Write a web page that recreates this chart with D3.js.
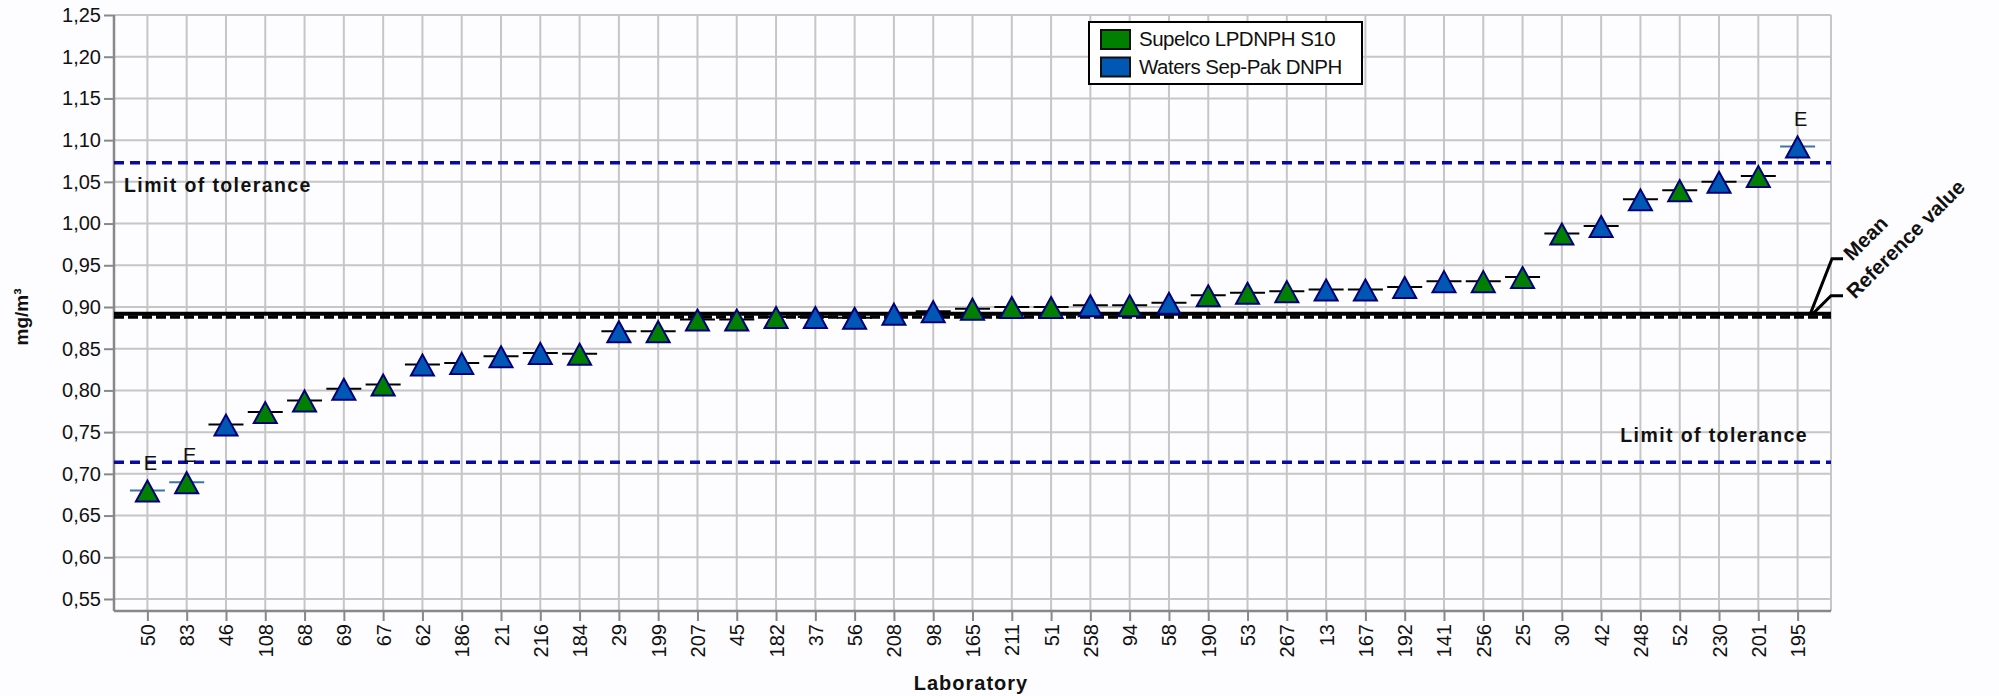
<!DOCTYPE html>
<html>
<head>
<meta charset="utf-8">
<script src="https://cdn.jsdelivr.net/npm/d3@7"></script>
<style>
html,body{margin:0;padding:0;background:#fdfcff;}
svg{display:block;font-family:"Liberation Sans",Arial,sans-serif;}
</style>
</head>
<body>
<svg id="chart" width="1999" height="696"></svg>
<script>
const labs = ["50","83","46","108","68","69","67","62","186","21","216","184","29","199","207","45","182","37","56","208","98","165","211","51","258","94","58","190","53","267","13","167","192","141","256","25","30","42","248","52","230","201","195"];
const values = [0.680,0.690,0.759,0.774,0.788,0.802,0.807,0.831,0.833,0.841,0.845,0.844,0.871,0.871,0.885,0.885,0.888,0.888,0.887,0.892,0.895,0.898,0.900,0.900,0.902,0.902,0.905,0.914,0.917,0.919,0.921,0.921,0.924,0.931,0.931,0.936,0.988,0.997,1.029,1.040,1.050,1.057,1.0925];
const cartridge = ["S","S","W","S","S","W","S","W","W","W","W","S","W","S","S","S","S","W","W","W","W","S","S","S","W","S","W","S","S","S","W","W","W","W","S","S","S","W","W","S","W","S","W"];
const flags = ["E","E","","","","","","","","","","","","","","","","","","","","","","","","","","","","","","","","","","","","","","","","","E"];
const seriesNames = ["Supelco LPDNPH S10","Waters Sep-Pak DNPH"];
const seriesKeys = ["S","W"];
const yTicks = [0.55,0.60,0.65,0.70,0.75,0.80,0.85,0.90,0.95,1.00,1.05,1.10,1.15,1.20,1.25];
const meanValue = 0.892;
const referenceValue = 0.888;
const toleranceUpper = 1.073;
const toleranceLower = 0.714;

const svg = d3.select("#chart");
svg.append("rect").attr("width",1999).attr("height",696).attr("fill","#fdfcff");

const L = 114, R = 1831, T = 15, B = 611;
const x = d3.scalePoint().domain(labs).range([L, R]).padding(0.85);
const y = d3.scaleLinear().domain([0.5356, 1.25]).range([B, T]);
const color = d3.scaleOrdinal().domain(seriesKeys).range(["#007f00", "#0058b4"]);
const fmt = v => d3.format(".2f")(v).replace(".", ",");

svg.append("rect").attr("x",L).attr("y",T).attr("width",R-L).attr("height",B-T).attr("fill","#fdfcff");

// grid
const grid = svg.append("g").attr("stroke","#c6c6c6").attr("stroke-width",2);
grid.selectAll("line.h").data(yTicks).join("line")
  .attr("x1",L).attr("x2",R).attr("y1",d=>y(d)).attr("y2",d=>y(d));
grid.selectAll("line.v").data(labs).join("line")
  .attr("x1",d=>x(d)).attr("x2",d=>x(d)).attr("y1",T).attr("y2",B);
grid.append("line").attr("x1",R).attr("x2",R).attr("y1",T).attr("y2",B);

// axes
const yAxis = svg.append("g").attr("transform",`translate(${L},0)`)
  .call(d3.axisLeft(y).tickValues(yTicks).tickFormat(fmt).tickSize(10).tickPadding(3));
yAxis.select(".domain").attr("d",`M0,${T}V${B}`);
const xAxis = svg.append("g").attr("transform",`translate(0,${B})`)
  .call(d3.axisBottom(x).tickSize(10).tickPadding(3));
xAxis.select(".domain").attr("d",`M${L},0H${R}`);
[yAxis, xAxis].forEach(a => {
  a.select(".domain").attr("stroke","#888").attr("stroke-width",2.5);
  a.selectAll(".tick line").attr("stroke","#888").attr("stroke-width",2);
  a.selectAll(".tick text").attr("fill","#111").style("font-size","20px").style("font-family","Liberation Sans, Arial, sans-serif");
});
xAxis.selectAll(".tick text")
  .attr("transform","rotate(-90)")
  .attr("x",-13).attr("y",0).attr("dy","0.35em")
  .attr("text-anchor","end");

// tolerance lines
[toleranceUpper, toleranceLower].forEach(v => {
  svg.append("line").attr("x1",L).attr("x2",R).attr("y1",y(v)).attr("y2",y(v))
    .attr("stroke","#0a0aa0").attr("stroke-width",3.5).attr("stroke-dasharray","10,6");
});
svg.append("text").attr("x",124).attr("y",y(toleranceUpper)+29)
  .attr("font-weight","bold").attr("font-size",19.5).attr("letter-spacing","1.4px").attr("fill","#111")
  .text("Limit of tolerance");
svg.append("text").attr("x",1808).attr("y",y(toleranceLower)-20).attr("text-anchor","end")
  .attr("font-weight","bold").attr("font-size",19.5).attr("letter-spacing","1.4px").attr("fill","#111")
  .text("Limit of tolerance");

// mean and reference lines
svg.append("line").attr("x1",L).attr("x2",R).attr("y1",y(meanValue)).attr("y2",y(meanValue))
  .attr("stroke","#000").attr("stroke-width",4);
svg.append("line").attr("x1",L).attr("x2",R).attr("y1",y(referenceValue)).attr("y2",y(referenceValue))
  .attr("stroke","#000").attr("stroke-width",3.5).attr("stroke-dasharray","10,4");

// leaders
const ym = y(meanValue);
svg.append("path").attr("fill","none").attr("stroke","#000").attr("stroke-width",3)
  .attr("d",`M1810,${ym+1}L1832,${ym-55}H1843`);
svg.append("path").attr("fill","none").attr("stroke","#000").attr("stroke-width",3)
  .attr("d",`M1812,${ym+1}L1831,${ym-18}H1843`);
svg.append("text").attr("transform",`translate(1852,${ym-52}) rotate(-45)`)
  .attr("font-weight","bold").attr("font-size",20.5).attr("fill","#111").text("Mean");
svg.append("text").attr("transform",`translate(1855,${ym-14}) rotate(-45)`)
  .attr("font-weight","bold").attr("font-size",20.5).attr("fill","#111").text("Reference value");

// points
const idx = d3.range(labs.length);
const pts = svg.append("g");
pts.selectAll("line").data(idx).join("line")
  .attr("x1",i=>x(labs[i])-17.5).attr("x2",i=>x(labs[i])+17.5)
  .attr("y1",i=>y(values[i])).attr("y2",i=>y(values[i]))
  .attr("stroke",i=>flags[i]==="E" ? "#3f72aa" : "#000").attr("stroke-width",2);
pts.selectAll("path").data(idx).join("path")
  .attr("d",i=>{const cx=x(labs[i]), cy=y(values[i]); return `M${cx},${cy-10}L${cx+11.5},${cy+11}L${cx-11.5},${cy+11}Z`;})
  .attr("fill",i=>color(cartridge[i])).attr("stroke","#00007a").attr("stroke-width",2).attr("stroke-linejoin","miter");
pts.selectAll("text").data(idx.filter(i=>flags[i])).join("text")
  .attr("x",i=>x(labs[i])+3).attr("y",i=>y(values[i])-20.5)
  .attr("text-anchor","middle").attr("font-size",20).attr("fill","#111")
  .text(i=>flags[i]);

// legend
const lg = svg.append("g");
lg.append("rect").attr("x",1089).attr("y",22).attr("width",273).attr("height",62)
  .attr("fill","#fff").attr("stroke","#000").attr("stroke-width",2);
seriesKeys.forEach((k,j) => {
  lg.append("rect").attr("x",1101).attr("y",30+j*27.5).attr("width",29).attr("height",19)
    .attr("fill",color(k)).attr("stroke","#111").attr("stroke-width",2);
  lg.append("text").attr("x",1139).attr("y",46+j*27.5).attr("font-size",20.5).attr("letter-spacing","-0.5px")
    .attr("fill","#111").text(seriesNames[j]);
});

// axis titles
svg.append("text").attr("transform","translate(28,317) rotate(-90)").attr("text-anchor","middle")
  .attr("font-weight","bold").attr("font-size",19).attr("fill","#111").text("mg/m³");
svg.append("text").attr("x",971).attr("y",690).attr("text-anchor","middle")
  .attr("font-weight","bold").attr("font-size",20).attr("letter-spacing","1px").attr("fill","#111").text("Laboratory");
</script>
</body>
</html>
